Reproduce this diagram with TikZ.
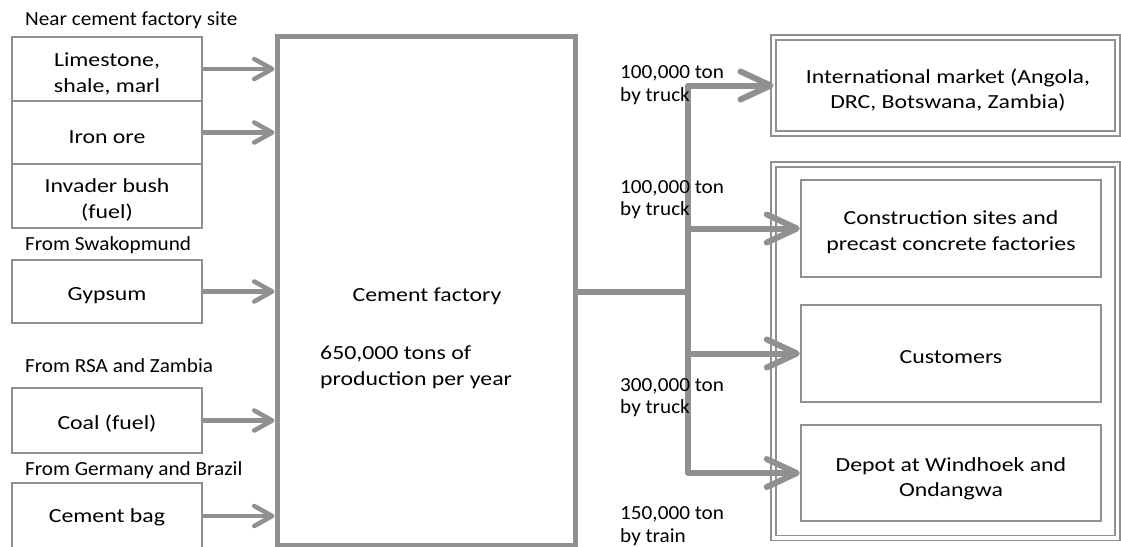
\documentclass[tikz,border=0pt]{standalone}
\usepackage{fontspec}
\setmainfont{Carlito}
\newfontfamily\boxfont{Carlito}[FakeStretch=1.19]
\newfontfamily\lblfont{Carlito}[FakeStretch=1.06]
\usetikzlibrary{arrows.meta}
\definecolor{lg}{RGB}{144,144,144}
\begin{document}
\begin{tikzpicture}[x=1pt,y=-1pt,
  every node/.style={text=black, inner sep=0pt},
  btxt/.style={font=\boxfont\fontsize{20}{25.5}\selectfont, align=center},
  srcbox/.style={draw=lg, line width=2.5pt, minimum width=190pt},
  inbox/.style={draw=lg, line width=2.5pt, minimum width=300pt},
  dbl/.style={draw=lg, line width=1.8pt, double=white, double distance=3.2pt, outer sep=0pt},
  lbl/.style={font=\lblfont\fontsize{20}{22.5}\selectfont, align=left},
  larrow/.style={draw=lg, line width=4.5pt, -{Straight Barb[length=18pt,width=20pt,line cap=round,line join=round]}},
  rarrow/.style={draw=lg, line width=6pt, line join=round, -{Straight Barb[length=30pt,width=28pt,line cap=round,line join=round]}},
  trunk/.style={draw=lg, line width=6pt, line join=round}
]
\useasboundingbox (0,0) rectangle (1121,546);

% source boxes
\node[srcbox, minimum height=64pt] (lime) at (107,69) {};
\node[srcbox, minimum height=63pt] (iron) at (107,132.5) {};
\node[srcbox, minimum height=64pt] (bush) at (107,196) {};
\node[srcbox, minimum height=63pt] (gyp) at (107,291.5) {};
\node[srcbox, minimum height=65pt] (coal) at (107,420.5) {};
\node[srcbox, minimum height=66pt] (bag) at (107,516) {};
\node[btxt] (limeT) at (107,74) {Limestone,\\shale, marl};
\node[btxt] (ironT) at (107,137) {Iron ore};
\node[btxt] (bushT) at (107,200) {Invader bush\\(fuel)};
\node[btxt] (gypT) at (107,295.5) {Gypsum};
\node[btxt] (coalT) at (107,424) {Coal (fuel)};
\node[btxt] (bagT) at (107,517.5) {Cement bag};

% origin labels
\node[lbl, anchor=base west] (o1) at (25,25) {Near cement factory site};
\node[lbl, anchor=base west] (o2) at (25,250.7) {From Swakopmund};
\node[lbl, anchor=base west] (o3) at (25,372.7) {From RSA and Zambia};
\node[lbl, anchor=base west] (o4) at (25,475) {From Germany and Brazil};

% factory
\node[draw=lg, line width=5pt, minimum width=298pt, minimum height=509pt] (fac) at (426,290.5) {};
\node[btxt, anchor=base] (facname) at (427,301.7) {Cement factory};
\node[btxt, align=left, anchor=west] (prod) at (320,367.5) {650,000 tons of\\production per year};

% input arrows
\draw[larrow] (lime.east) -- (lime.east -| fac.west);
\draw[larrow] (iron.east) -- (iron.east -| fac.west);
\draw[larrow] (gyp.east) -- (gyp.east -| fac.west);
\draw[larrow] (coal.east) -- (coal.east -| fac.west);
\draw[larrow] (bag.east) -- (bag.east -| fac.west);

% destinations
\node[dbl, minimum width=344pt, minimum height=96pt] (intl) at (945.5,85.5) {};
\node[dbl, minimum width=344pt, minimum height=373.5pt] (dom) at (945.5,351.25) {};
\node[inbox, minimum height=97pt] (cons) at (951,228.5) {};
\node[inbox, minimum height=97pt] (cust) at (951,353.5) {};
\node[inbox, minimum height=96pt] (dep) at (951,473) {};
\node[btxt] (intlT) at (948,90) {International market (Angola,\\DRC, Botswana, Zambia)};
\node[btxt] (consT) at (951,232) {Construction sites and\\precast concrete factories};
\node[btxt] (custT) at (951,357) {Customers};
\node[btxt] (depT) at (951,479) {Depot at Windhoek and\\Ondangwa};

% distribution
\coordinate (j) at (688,292);
\draw[trunk] (fac.east |- j) -- (j);
\draw[rarrow] (j) |- (intl.west);
\draw[rarrow] (j) |- (dep.west);
\draw[rarrow] (j |- cons.west) -- (cons.west);
\draw[rarrow] (j |- cust.west) -- (cust.west);

% quantity labels
\node[lbl, anchor=west] (q1) at (620,85) {100,000 ton\\by truck};
\node[lbl, anchor=west] (q2) at (620,199.5) {100,000 ton\\by truck};
\node[lbl, anchor=west] (q3) at (620,397.5) {300,000 ton\\by truck};
\node[lbl, anchor=west] (q4) at (620,526) {150,000 ton\\by train};
\end{tikzpicture}
\end{document}
